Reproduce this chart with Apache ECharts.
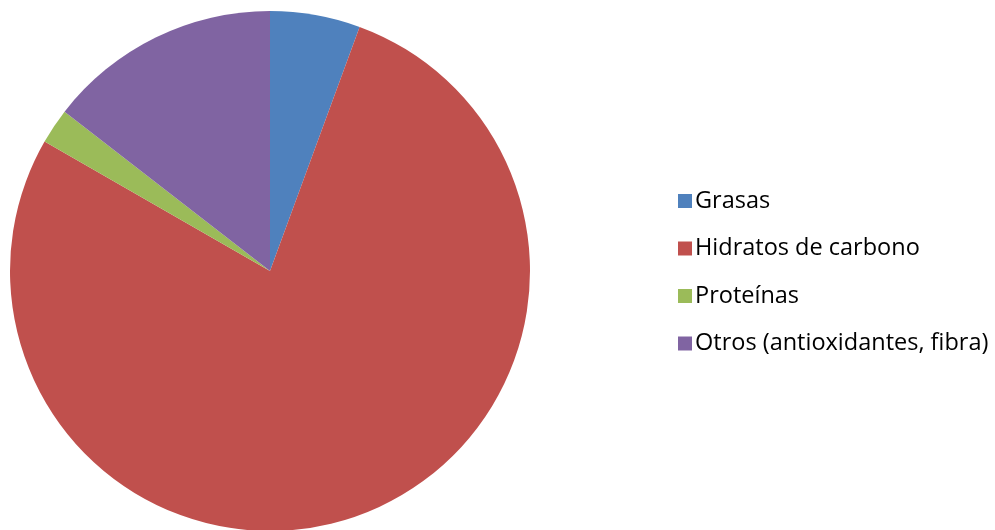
<!DOCTYPE html>
<html>
<head>
<meta charset="utf-8">
<script src="https://cdn.jsdelivr.net/npm/echarts@6/dist/echarts.min.js"></script>
<style>
html,body{margin:0;padding:0;background:#fff;}
#chart{width:995px;height:530px;}
</style>
</head>
<body>
<div id="chart"></div>
<script>
// datos del grafico
var categorias = ['Grasas', 'Hidratos de carbono', 'Proteínas', 'Otros (antioxidantes, fibra)'];
var valores = [5.6, 77.7, 2.2, 14.5];
var colores = ['#4F81BD', '#C0504D', '#9BBB59', '#8064A2'];

var myChart = echarts.init(document.getElementById("chart"));
var datos = [];
for (var i = 0; i < categorias.length; i++) {
	datos.push({name: categorias[i], value: valores[i], itemStyle: {color: colores[i]}});
}
var option = {
	animation: false,
	legend: {
		orient: 'vertical',
		left: 673,
		top: 184,
		itemWidth: 14,
		itemHeight: 14,
		itemGap: 23.5,
		icon: 'rect',
		data: categorias,
		textStyle: {
			fontFamily: 'Open Sans',
			fontSize: 23.5,
			lineHeight: 24,
			color: '#000',
			padding: [0, 0, 0, -2]
		}
	},
	series: [
		{
			type: 'pie',
			center: [270, 271],
			radius: 260,
			startAngle: 90,
			clockwise: true,
			label: {show: false},
			labelLine: {show: false},
			emphasis: {disabled: true},
			itemStyle: {borderWidth: 0},
			data: datos
		}
	]
};
myChart.setOption(option);
</script>
</body>
</html>
